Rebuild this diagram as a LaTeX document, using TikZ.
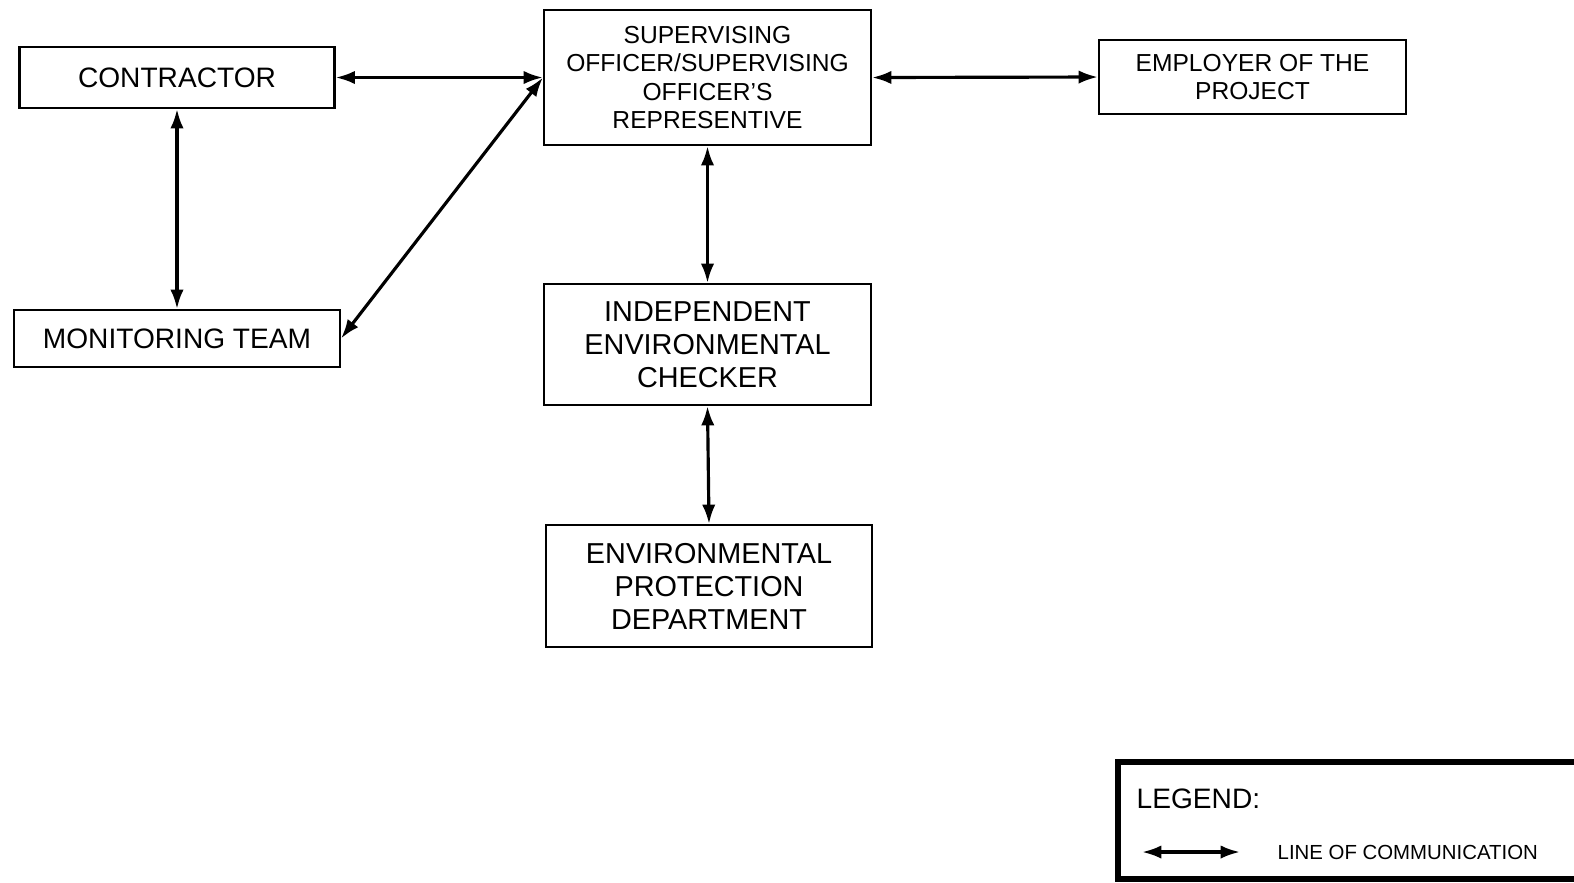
\documentclass[tikz,border=0pt]{standalone}
\usepackage{fontspec}
\setmainfont{Liberation Sans}
\usetikzlibrary{arrows.meta,positioning}
\tikzstyle{box} = [draw, line width=0.6pt, align=center, inner sep=0pt, font=\fontsize{8}{8}\selectfont]
\tikzstyle{smallbox} = [box, font=\fontsize{7}{8}\selectfont]
\tikzstyle{tallbox} = [box, font=\fontsize{8.2}{9.4}\selectfont]
\tikzstyle{comm} = [line width=0.9pt, {Latex[length=5.5pt,width=3.8pt]}-{Latex[length=5.5pt,width=3.8pt]}]

\begin{document}
\begin{tikzpicture}
\useasboundingbox (0,0) rectangle (15.74,-8.82);

% Boxes
\node[box, minimum width=3.15cm, minimum height=0.61cm] (contractor) at (1.77,-0.775) {CONTRACTOR};
\node[box, minimum width=3.26cm, minimum height=0.57cm] (monitor) at (1.77,-3.385) {MONITORING TEAM};
\node[smallbox, minimum width=3.27cm, minimum height=1.35cm] (superv) at (7.075,-0.775)
  {SUPERVISING\\OFFICER/SUPERVISING\\OFFICER'S\\REPRESENTIVE};
\node[smallbox, minimum width=3.07cm, minimum height=0.74cm] (employer) at (12.525,-0.77) {EMPLOYER OF THE\\PROJECT};
\node[tallbox, minimum width=3.27cm, minimum height=1.21cm] (iec) at (7.075,-3.445)
  {INDEPENDENT\\ENVIRONMENTAL\\CHECKER};
\node[tallbox, minimum width=3.26cm, minimum height=1.22cm] (epd) at (7.09,-5.86)
  {ENVIRONMENTAL\\PROTECTION\\DEPARTMENT};

% Lines of communication
\draw[comm] (contractor.east) -- (superv.west);
\draw[comm] (contractor.south) -- (monitor.north);
\draw[comm] (monitor.east) -- (superv.west);
\draw[comm] (superv.east) -- (employer.west);
\draw[comm] (superv.south) -- (iec.north);
\draw[comm] (iec.south) -- (epd.north);

% Legend
\draw[line width=1.5pt] (11.18,-7.62) rectangle (15.90,-8.79);
\node[anchor=west, inner sep=0pt, font=\fontsize{8}{8}\selectfont] (legend) at (11.36,-7.99) {LEGEND:};
\coordinate (la) at (11.42,-8.52);
\coordinate (lb) at (12.40,-8.52);
\draw[comm] (la) -- (lb);
\node[anchor=west, inner sep=0pt, font=\fontsize{5.8}{6}\selectfont] (lcomm) at (12.77,-8.52) {LINE OF COMMUNICATION};
\end{tikzpicture}
\end{document}
